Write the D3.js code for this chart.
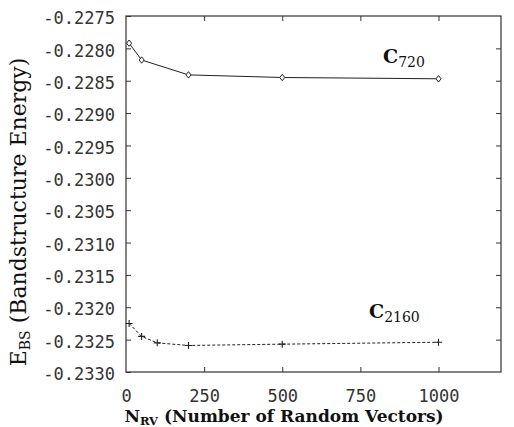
<!DOCTYPE html>
<html>
<head>
<meta charset="utf-8">
<style>
  body { margin: 0; background: #fff; }
  .tick text { font-family: "DejaVu Sans Mono", monospace; font-size: 17px; fill: #333; }
</style>
</head>
<body>
<div id="chart"></div>
<script src="https://cdn.jsdelivr.net/npm/d3@7"></script>
<script>
// data
const nC720 = [10, 50, 200, 500, 1000]
const eC720 = [-0.22792, -0.22818, -0.22841, -0.22845, -0.22847]
const nC2160 = [10, 50, 100, 200, 500, 1000]
const eC2160 = [-0.23225, -0.23245, -0.23255, -0.23259, -0.23257, -0.23254]
const xTicks = [0, 250, 500, 750, 1000]
const yTicks = [-0.2275, -0.2280, -0.2285, -0.2290, -0.2295, -0.2300, -0.2305,
                -0.2310, -0.2315, -0.2320, -0.2325, -0.2330]

const width = 514, height = 427
const pLeft = 126, pRight = 501, pTop = 16, pBottom = 372

const x = d3.scaleLinear().domain([0, 1200]).range([pLeft, pRight])
const y = d3.scaleLinear().domain([-0.2330, -0.2275]).range([pBottom, pTop])

const svg = d3.select("#chart").append("svg")
    .attr("width", width)
    .attr("height", height)

// frame
svg.append("rect")
    .attr("x", pLeft).attr("y", pTop)
    .attr("width", pRight - pLeft).attr("height", pBottom - pTop)
    .attr("fill", "none").attr("stroke", "#333").attr("stroke-width", 1.2)

const tk = 5
// left axis with labels, ticks pointing inward
svg.append("g")
    .attr("transform", `translate(${pLeft},0)`)
    .call(d3.axisLeft(y).tickValues(yTicks).tickSize(-tk).tickPadding(11)
        .tickFormat(d => d.toFixed(4)))
    .call(g => g.select(".domain").remove())
    .call(g => g.selectAll("line").attr("stroke", "#333"))
    .call(g => g.selectAll("text").attr("dy", "0.45em"))

// right ticks
svg.append("g")
    .attr("transform", `translate(${pRight},0)`)
    .call(d3.axisRight(y).tickValues(yTicks.slice(1, -1)).tickSize(-tk).tickFormat(""))
    .call(g => g.select(".domain").remove())
    .call(g => g.selectAll("line").attr("stroke", "#333"))

// bottom axis
svg.append("g")
    .attr("transform", `translate(0,${pBottom})`)
    .call(d3.axisBottom(x).tickValues(xTicks).tickSize(-tk).tickPadding(18)
        .tickFormat(d => String(d)))
    .call(g => g.select(".domain").remove())
    .call(g => g.selectAll("line").attr("stroke", "#333"))
    .call(g => g.selectAll(".tick").filter(d => d === 0).select("line").remove())

// top ticks
svg.append("g")
    .attr("transform", `translate(0,${pTop})`)
    .call(d3.axisTop(x).tickValues(xTicks.slice(1)).tickSize(-tk).tickFormat(""))
    .call(g => g.select(".domain").remove())
    .call(g => g.selectAll("line").attr("stroke", "#333"))

const line = d3.line().x(d => x(d[0])).y(d => y(d[1]))
const c720 = d3.zip(nC720, eC720)
const c2160 = d3.zip(nC2160, eC2160)

svg.append("path")
    .attr("d", line(c720))
    .attr("fill", "none").attr("stroke", "#222").attr("stroke-width", 1)

svg.append("path")
    .attr("d", line(c2160))
    .attr("fill", "none").attr("stroke", "#222").attr("stroke-width", 1)
    .attr("stroke-dasharray", "3,2")

// diamonds
svg.append("g").selectAll("path")
    .data(c720).enter().append("path")
    .attr("d", d => {
        const cx = x(d[0]), cy = y(d[1]), r = 3.2
        return `M${cx},${cy - r}L${cx + r * 0.8},${cy}L${cx},${cy + r}L${cx - r * 0.8},${cy}Z`
    })
    .attr("fill", "#fff").attr("stroke", "#222").attr("stroke-width", 1)

// plus signs
svg.append("g").selectAll("path")
    .data(c2160).enter().append("path")
    .attr("d", d => {
        const cx = x(d[0]), cy = y(d[1]), r = 3.5
        return `M${cx - r},${cy}H${cx + r}M${cx},${cy - r}V${cy + r}`
    })
    .attr("stroke", "#222").attr("stroke-width", 1.1)

// series labels
const serif = "'DejaVu Serif', 'Liberation Serif', serif"
function seriesLabel(px, py, sub) {
    const t = svg.append("text")
        .attr("x", px).attr("y", py)
        .attr("font-family", serif).attr("font-size", 19).attr("font-weight", "bold")
        .attr("fill", "#111")
    t.append("tspan").text("C")
    t.append("tspan").attr("font-size", 14).attr("font-weight", "normal").attr("dy", 4).text(sub)
}
seriesLabel(383, 63, "720")
seriesLabel(369, 318, "2160")

// axis titles
const xt = svg.append("text")
    .attr("x", 284).attr("y", 422)
    .attr("text-anchor", "middle")
    .attr("font-family", serif).attr("font-size", 17).attr("font-weight", "bold")
    .attr("fill", "#111")
xt.append("tspan").text("N")
xt.append("tspan").attr("font-size", 11.5).attr("dy", 3).text("RV")
xt.append("tspan").attr("dy", -3).text(" (Number of Random Vectors)")

const yt = svg.append("text")
    .attr("transform", "translate(26,212) rotate(-90)")
    .attr("text-anchor", "middle")
    .attr("font-family", serif).attr("font-size", 22)
    .attr("fill", "#111")
yt.append("tspan").text("E")
yt.append("tspan").attr("font-size", 14).attr("dy", 4).text("BS")
yt.append("tspan").attr("dy", -4).text(" (Bandstructure Energy)")
</script>
</body>
</html>
